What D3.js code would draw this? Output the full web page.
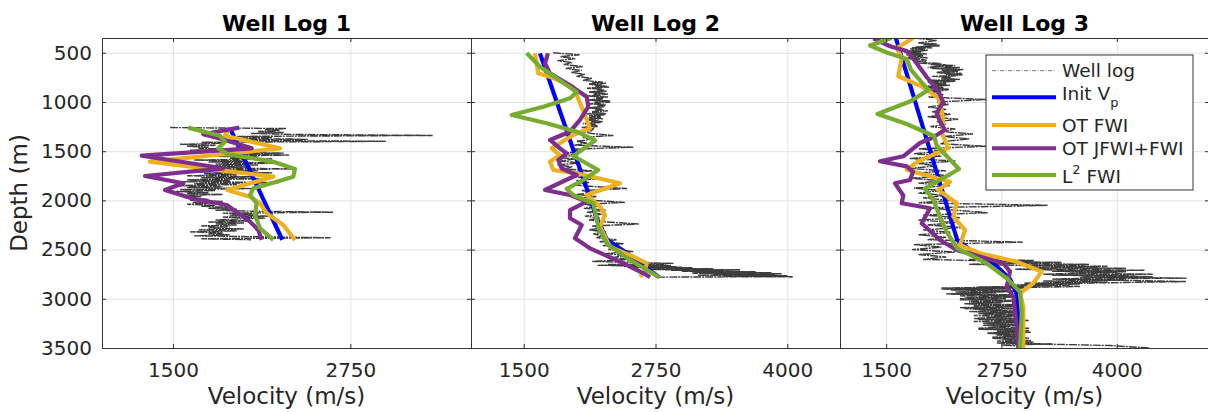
<!DOCTYPE html>
<html>
<head>
<meta charset="utf-8">
<script src="https://cdn.jsdelivr.net/npm/d3@7"></script>
<style>
  body { margin: 0; background: #fff; }
  text { font-family: "DejaVu Sans", sans-serif; fill: #262626; }
</style>
</head>
<body>
<div id="chart"></div>
<script>
var width = 1208, height = 412;

var titles = ["Well Log 1", "Well Log 2", "Well Log 3"];
var xMax = [3600, 4500, 5000];
var xTicks = [[1500, 2750], [1500, 2750, 4000], [1500, 2750, 4000]];
var depthTicks = [500, 1000, 1500, 2000, 2500, 3000, 3500];
var colors = ["#0000ff", "#edb120", "#7e2f8e", "#77ac30"];

// well logs: first depth, depth step (m), velocities (m/s)
var log1Start = 1260, log1Step = 10;
var log1 = [1480, 2300, 2150, 2250, 2100, 2280, 2050, 2350, 3330, 1950,
  2200, 1980, 2450, 1850, 3000, 1700, 1850, 1550, 1800, 1600,
  1750, 1680, 1900, 1620, 2150, 1850, 2280, 1950, 2320, 1700,
  2100, 1900, 2200, 1650, 2000, 1750, 2250, 1800, 2100, 1680,
  2050, 1700, 2350, 1750, 2100, 1650, 2200, 1720, 1950, 1600,
  2050, 1700, 2150, 1600, 1900, 1550, 2250, 1650, 1950, 1500,
  1850, 1600, 2050, 1550, 1800, 1520, 1750, 1600, 1850, 1550,
  1700, 1580, 1650, 1750, 1620, 1850, 1640, 1750, 1600, 1800,
  1700, 1900, 1750, 1950, 1800, 2050, 2630, 1850, 2100, 1900,
  2200, 1850, 2150, 1950, 1800, 2050, 1750, 2000, 1800, 1950,
  1700, 1900, 1750, 2000, 1680, 1950, 1620, 1850, 1750, 1900,
  1650, 2100, 2610, 1700, 2050];

var log2Start = 500, log2Step = 20;
var log2 = [1780, 2030, 1850, 1990, 1820, 1960, 1880, 2060, 1900, 2050,
  1950, 2080, 2000, 2150, 2060, 2250, 2120, 2290, 2150, 2260,
  2120, 2300, 2150, 2250, 2120, 2320, 2180, 2270, 2130, 2250,
  2150, 2280, 2120, 2230, 2100, 2250, 2110, 2200, 2080, 2160,
  2040, 2150, 2350, 2060, 2140, 2000, 2100, 1980, 2540, 1950,
  2050, 1880, 2000, 1830, 1980, 1850, 2030, 1820, 1960, 1880,
  2150, 1940, 2100, 1960, 2190, 2000, 2120, 1950, 2170, 2480,
  2050, 2160, 2000, 2190, 2030, 2150, 2460, 2080, 2200, 2070,
  2280, 2100, 2250, 2080, 2220, 2120, 2290, 2590, 2150, 2260,
  2120, 2280, 2160, 2250, 2190, 2380, 2220, 2450, 2250, 2400,
  2300, 2540, 2280, 2450, 2350, 2500, 2150, 2920, 2300, 3000,
  2650, 3550, 3100, 3880, 4050];
// finer sampled intervals of well 2
var log2MidStart = 800, log2MidStep = 10;
var log2Mid = [2150, 2280, 2120, 2250, 2180, 2310, 2100, 2240, 2200, 2290,
  2130, 2270, 2160, 2230, 2110, 2300, 2190, 2250, 2140, 2320,
  2170, 2220, 2120, 2280, 2200, 2260, 2100, 2240, 2180, 2300,
  2150, 2210, 2090, 2270, 2160, 2230, 2120, 2250, 2080, 2200,
  2140, 2230, 2060, 2180, 2110, 2200, 2050, 2170, 2090, 2150, 2030];
var log2DeepStart = 2650, log2DeepStep = 5;
var log2Deep = [2300, 2850, 2200, 2900, 2450, 2950, 2550, 3100, 2650, 3300,
  2700, 3550, 2900, 3400, 3000, 3700, 3100, 3850, 3200, 3950,
  3300, 3880, 3150, 4000, 3400, 4050, 2780];

var log3Start = 350, log3Step = 25;
var log3 = [1800, 2050, 1850, 2080, 1780, 1950, 1700, 1900, 1720, 1940,
  1800, 2150, 1950, 2300, 2050, 2330, 2100, 2250, 1980, 2150,
  1950, 2180, 2000, 2120, 1960, 2590, 2050, 2180, 1950, 2150,
  2000, 2200, 1950, 2280, 2050, 2150, 1980, 2250, 2100, 2440,
  2120, 2400, 2150, 2100, 2590, 1850, 2150, 1800, 2100, 1760,
  2250, 1850, 2050, 1750, 2150, 1800, 2200, 1760, 2100, 1850,
  2190, 1800, 2100, 1850, 2150, 1900, 2200, 1850, 3250, 1950,
  2250, 2600, 1900, 2300, 1850, 2250, 1950, 2330, 1900, 2200,
  1850, 2150, 1950, 2980, 1800, 2100, 1780, 2250, 1850, 2150,
  1900, 3100, 2400, 3800, 2900, 4100, 3200, 4390, 3300, 4750,
  3000, 3600, 2100, 2900, 2200, 2950, 2300, 2850, 2400, 2980,
  2350, 2900, 2500, 2950, 2450, 3000, 2550, 2900, 2500, 3050,
  2600, 3000, 2650, 3070, 2700, 3930, 4360];
// finer sampled intervals of well 3
var log3TopStart = 400, log3TopStep = 10;
var log3Top = [1850, 2050, 1900, 2080, 1820, 2000, 1760, 1920, 1700, 1880,
  1750, 1940, 1720, 1900, 1780, 1950, 1700, 1850, 1800, 1940,
  1900, 2100, 1980, 2250, 2050, 2300, 2000, 2336, 2100, 2280,
  2050, 2320, 2150, 2250, 2000, 2200, 2100, 2300, 1980, 2250,
  1950, 2150, 2000, 2190, 1940, 2120, 1980, 2180, 1960, 2100, 2000];
var log3DeepStart = 2600, log3DeepStep = 10;
var log3Deep = [2400, 3100, 2600, 3400, 2800, 3700, 3000, 3900, 3100, 4100,
  3200, 4300, 3300, 4000, 3500, 4390, 3300, 4200, 3600, 4758,
  3400, 4100, 3200, 3900, 3000, 3600, 2800, 3300, 2500, 3000, 2300];
var log3BottomStart = 2880, log3BottomStep = 10;
var log3Bottom = [2950, 2100, 2800, 2200, 2900, 2250, 2700, 2150, 2850, 2300,
  2950, 2350, 2800, 2300, 2980, 2400, 2750, 2350, 2900, 2450,
  2850, 2300, 2950, 2500, 2800, 2400, 2900, 2550, 2980, 2450,
  2850, 2600, 2950, 2500, 3050, 2450, 2900, 2600, 3000, 2550,
  2850, 2650, 3050, 2500, 2950, 2700, 3070, 2600, 2900, 2700,
  3000, 2650, 3050, 2750, 2950, 2700, 3100, 2800, 3300, 2750, 2950];

// inverted models: [velocity, depth]
var init1 = [[1900, 1260], [2270, 2400]];
var otFwi1 = [[1902, 1261], [1867, 1343], [2254, 1471], [1338, 1607], [2207, 1759], [1883, 1894],
  [2043, 1962], [2113, 2029], [2160, 2131], [2277, 2250], [2360, 2402]];
var otJfwi1 = [[1967, 1261], [1714, 1328], [1843, 1376], [2055, 1471], [1280, 1546], [1855, 1674],
  [1303, 1752], [1573, 1826], [1444, 1894], [1632, 1979], [1879, 2047], [2043, 2216],
  [2101, 2301], [2125, 2402]];
var l2Fwi1 = [[1608, 1261], [1831, 1343], [1867, 1404], [1819, 1471], [1890, 1532], [2207, 1607],
  [2360, 1681], [2348, 1759], [2231, 1810], [2066, 1877], [2043, 1945], [2090, 2029],
  [2078, 2148], [2113, 2283], [2207, 2402]];

var init2 = [[1654, 506], [2113, 1928], [2200, 2200], [2290, 2400], [2470, 2530], [2600, 2640], [2786, 2781]];
var otFwi2 = [[1607, 505], [1638, 709], [1749, 743], [1970, 845], [2081, 1132], [2129, 1267],
  [1970, 1336], [1765, 1471], [1844, 1539], [1749, 1607], [1781, 1691], [2003, 1725],
  [2413, 1826], [2097, 1945], [2224, 2064], [2271, 2148], [2224, 2267], [2318, 2470],
  [2539, 2572], [2666, 2639], [2650, 2724], [2603, 2775]];
var otJfwi2 = [[1730, 505], [1702, 607], [1749, 709], [1908, 810], [2097, 946], [2113, 1048],
  [2034, 1183], [1939, 1302], [1749, 1386], [1844, 1471], [1908, 1522], [1828, 1590],
  [1860, 1674], [2003, 1742], [1702, 1894], [1939, 1945], [2097, 2013], [1939, 2098],
  [1939, 2182], [2050, 2250], [1986, 2385], [2129, 2487], [2445, 2639], [2666, 2758],
  [2698, 2781]];
var l2Fwi2 = [[1528, 502], [1654, 642], [1813, 759], [2003, 899], [1939, 963], [1686, 1048],
  [1386, 1132], [1718, 1217], [2003, 1302], [2176, 1391], [2097, 1454], [1970, 1549],
  [2207, 1691], [2065, 1793], [1908, 1884], [1970, 1945], [2160, 2029], [2207, 2267],
  [2287, 2436], [2508, 2605], [2786, 2781]];

var init3 = [[1605, 350], [2270, 2400], [2450, 2530], [2662, 2639], [2843, 2800], [2915, 2950],
  [2940, 3200], [2951, 3500]];
var otFwi3 = [[1795, 350], [1615, 452], [1669, 553], [1632, 739], [1886, 841], [2066, 960],
  [2102, 1078], [2120, 1214], [2102, 1315], [2174, 1468], [1849, 1603], [1723, 1688],
  [2192, 1810], [2066, 1894], [2265, 2029], [2228, 2166], [2355, 2301], [2301, 2453],
  [2518, 2538], [2915, 2623], [3186, 2724], [3095, 2842], [2951, 2944], [2987, 3080],
  [2987, 3500]];
var otJfwi3 = [[1361, 353], [1542, 434], [1723, 482], [1813, 584], [1940, 746], [2066, 891],
  [2117, 1000], [2048, 1112], [2084, 1196], [2138, 1285], [1994, 1366], [1867, 1417],
  [1686, 1552], [1434, 1603], [1723, 1654], [1791, 1711], [1759, 1793], [1596, 1826],
  [1686, 1950], [1669, 2029], [1976, 2080], [1886, 2233], [2084, 2402], [2265, 2504],
  [2770, 2639], [2843, 2724], [2807, 2877], [2879, 2978], [2915, 3283], [2933, 3500]];
var l2Fwi3 = [[1560, 350], [1325, 426], [1506, 497], [1723, 563], [1770, 675], [1957, 878],
  [1759, 995], [1407, 1122], [1723, 1224], [2019, 1346], [2048, 1442], [2290, 1681],
  [2084, 1793], [1921, 1879], [2011, 1996], [2084, 2166], [2157, 2321], [2268, 2484],
  [2590, 2639], [2807, 2791], [2951, 2928], [2970, 3147], [2951, 3500]];

var wells = [
  { logs: [[log1Start, log1Step, log1]], models: [init1, otFwi1, otJfwi1, l2Fwi1] },
  { logs: [[log2Start, log2Step, log2], [log2MidStart, log2MidStep, log2Mid],
           [log2DeepStart, log2DeepStep, log2Deep]],
    models: [init2, otFwi2, otJfwi2, l2Fwi2] },
  { logs: [[log3Start, log3Step, log3], [log3TopStart, log3TopStep, log3Top],
           [log3DeepStart, log3DeepStep, log3Deep], [log3BottomStart, log3BottomStep, log3Bottom]],
    models: [init3, otFwi3, otJfwi3, l2Fwi3] }
];

var panelLeft = [102, 471, 840], panelW = 369;
var plotTop = 38, plotBottom = 348;

var svg = d3.select("#chart").append("svg")
  .attr("width", width)
  .attr("height", height);

var y = d3.scaleLinear().domain([350, 3500]).range([plotTop, plotBottom]);

wells.forEach(function (w, i) {
  var x = d3.scaleLinear().domain([1000, xMax[i]]).range([panelLeft[i], panelLeft[i] + panelW]);
  var g = svg.append("g");

  g.append("clipPath").attr("id", "clip" + i)
    .append("rect")
    .attr("x", panelLeft[i]).attr("y", plotTop)
    .attr("width", panelW).attr("height", plotBottom - plotTop);

  // grid
  var gx = g.append("g")
    .attr("transform", "translate(0," + plotBottom + ")")
    .call(d3.axisBottom(x).tickValues(xTicks[i]).tickSize(-(plotBottom - plotTop)).tickFormat(""));
  var gy = g.append("g")
    .attr("transform", "translate(" + panelLeft[i] + ",0)")
    .call(d3.axisLeft(y).tickValues(depthTicks).tickSize(-panelW).tickFormat(""));
  [gx, gy].forEach(function (a) {
    a.select(".domain").remove();
    a.selectAll("line").attr("stroke", "#e3e3e3");
  });

  var plot = g.append("g").attr("clip-path", "url(#clip" + i + ")");

  // well log
  w.logs.forEach(function (lg) {
    var logLine = d3.line()
      .x(function (d) { return x(d); })
      .y(function (d, k) { return y(lg[0] + k * lg[1]); });
    plot.append("path")
      .datum(lg[2])
      .attr("d", logLine)
      .attr("fill", "none")
      .attr("stroke", "#3c3c3c")
      .attr("stroke-width", 1.4)
      .attr("stroke-dasharray", "8,1,2,1");
  });

  var line = d3.line()
    .x(function (d) { return x(d[0]); })
    .y(function (d) { return y(d[1]); });
  w.models.forEach(function (m, k) {
    plot.append("path")
      .datum(m)
      .attr("d", line)
      .attr("fill", "none")
      .attr("stroke", colors[k])
      .attr("stroke-width", 4.2)
      .attr("stroke-linejoin", "round");
  });

  // axes box
  var axes = [
    g.append("g").attr("transform", "translate(0," + plotBottom + ")")
      .call(d3.axisBottom(x).tickValues(xTicks[i]).tickSizeInner(-4).tickSizeOuter(0).tickPadding(15)
        .tickFormat(d3.format("d"))),
    g.append("g").attr("transform", "translate(0," + plotTop + ")")
      .call(d3.axisTop(x).tickValues(xTicks[i]).tickSizeInner(-4).tickSizeOuter(0).tickFormat("")),
    g.append("g").attr("transform", "translate(" + panelLeft[i] + ",0)")
      .call(d3.axisLeft(y).tickValues(depthTicks).tickSizeInner(-4).tickSizeOuter(0).tickPadding(10)
        .tickFormat(i === 0 ? d3.format("d") : "")),
    g.append("g").attr("transform", "translate(" + (panelLeft[i] + panelW) + ",0)")
      .call(d3.axisRight(y).tickValues(depthTicks).tickSizeInner(-4).tickSizeOuter(0).tickFormat(""))
  ];
  axes.forEach(function (a) {
    a.attr("font-size", 20).attr("font-family", null);
    a.selectAll("path, line").attr("stroke", "#333");
    a.selectAll("text").attr("fill", "#262626");
  });

  g.append("text")
    .attr("x", panelLeft[i] + panelW / 2).attr("y", 31)
    .attr("text-anchor", "middle")
    .attr("font-size", 22).attr("font-weight", "bold")
    .style("fill", "#000")
    .text(titles[i]);

  g.append("text")
    .attr("x", panelLeft[i] + panelW / 2).attr("y", 404)
    .attr("text-anchor", "middle")
    .attr("font-size", 23)
    .text("Velocity (m/s)");
});

svg.append("text")
  .attr("transform", "translate(27," + ((plotTop + plotBottom) / 2) + ") rotate(-90)")
  .attr("text-anchor", "middle")
  .attr("font-size", 23)
  .text("Depth (m)");

// legend
var legend = svg.append("g");
legend.append("rect")
  .attr("x", 986).attr("y", 55).attr("width", 207).attr("height", 135)
  .attr("fill", "#fff").attr("stroke", "#333").attr("stroke-width", 1);

var rowLine = [70.7, 97.3, 125, 148.3, 175];
var rowBase = [76.7, 100, 131.7, 155, 183.3];

legend.append("line")
  .attr("x1", 992).attr("x2", 1056).attr("y1", rowLine[0]).attr("y2", rowLine[0])
  .attr("stroke", "#555").attr("stroke-width", 0.8).attr("stroke-dasharray", "4,1.5,1,1.5");
colors.forEach(function (c, k) {
  legend.append("line")
    .attr("x1", 992).attr("x2", 1056).attr("y1", rowLine[k + 1]).attr("y2", rowLine[k + 1])
    .attr("stroke", c).attr("stroke-width", 4);
});

function legendText(row) {
  return legend.append("text").attr("x", 1062).attr("y", rowBase[row]).attr("font-size", 18.5);
}
legendText(0).text("Well log");
var t1 = legendText(1);
t1.append("tspan").text("Init V");
t1.append("tspan").attr("font-size", 13).attr("dy", 7).text("p");
legendText(2).text("OT FWI");
legendText(3).text("OT JFWI+FWI");
var t4 = legendText(4);
t4.append("tspan").text("L");
t4.append("tspan").attr("font-size", 13).attr("dy", -9).text("2");
t4.append("tspan").attr("dy", 9).text(" FWI");
</script>
</body>
</html>
